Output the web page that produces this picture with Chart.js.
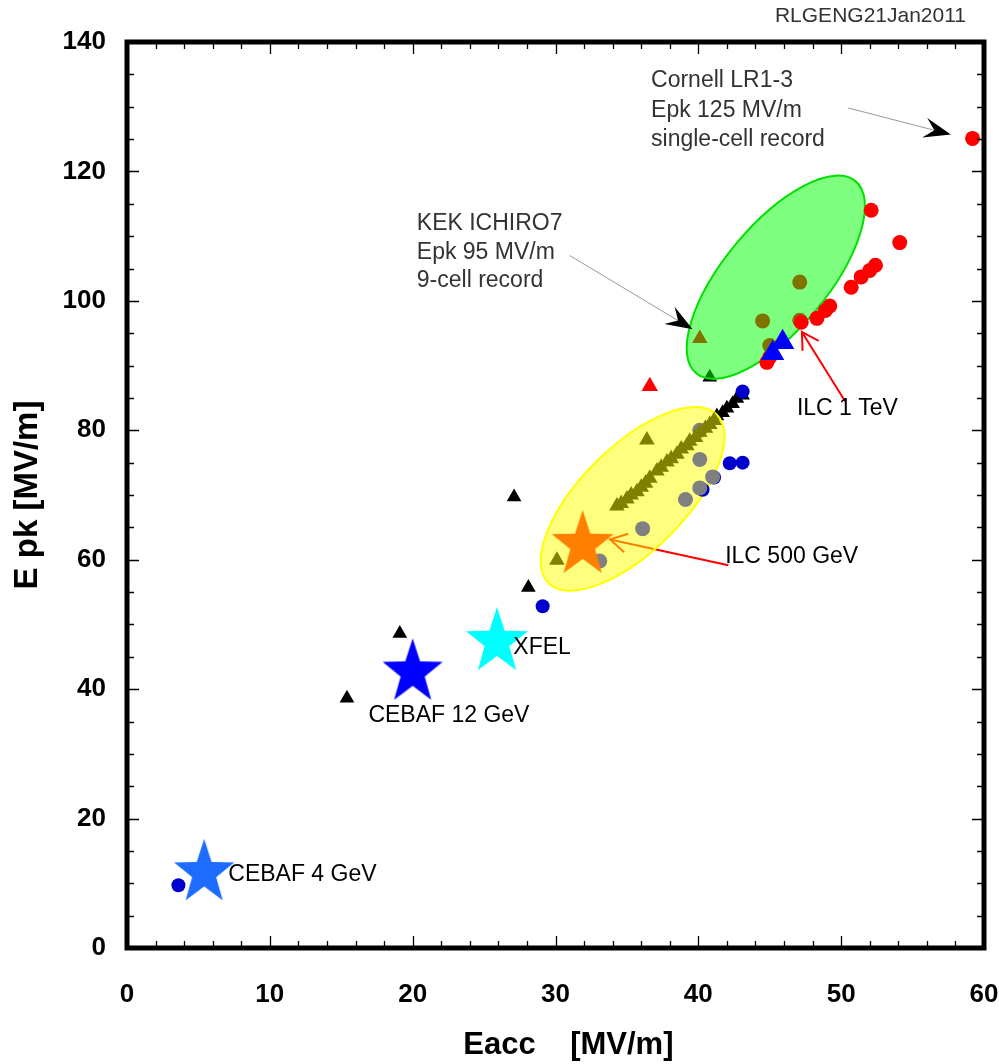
<!DOCTYPE html>
<html><head><meta charset="utf-8">
<script src="https://cdn.jsdelivr.net/npm/chart.js@4.4.1/dist/chart.umd.min.js"></script>
<style>html,body{margin:0;padding:0;background:#fff;}#wrap{width:999px;height:1064px;}</style>
</head><body><div id="wrap"><canvas id="c" width="999" height="1064"></canvas></div>
<script>
// ---------------- data ----------------
const xTickValues = [0, 10, 20, 30, 40, 50, 60];
const yTickValues = [0, 20, 40, 60, 80, 100, 120, 140];

const starNames = ['CEBAF 4 GeV', 'CEBAF 12 GeV', 'XFEL', 'ILC 500 GeV'];
const starEacc = [5.4, 20.0, 25.9, 31.9];
const starEpk = [11.6, 42.6, 47.3, 62.3];

const blueTriEacc = [45.9, 45.2];
const blueTriEpk = [93.6, 91.9];

const redTriEacc = [36.6];
const redTriEpk = [86.8];

const redCircEacc = [59.2, 52.1, 54.1, 52.4, 52.0, 51.4, 50.7, 49.2, 48.9, 48.3, 47.2, 44.8, 45.0];
const redCircEpk = [125.1, 114.0, 109.0, 105.5, 104.7, 103.7, 102.1, 99.2, 98.5, 97.3, 96.7, 90.5, 91.3];

const kekEacc = [47.1, 44.5, 47.1, 45.0];
const kekEpk = [102.9, 96.9, 97.0, 93.1];
const kekTriEacc = [40.1];
const kekTriEpk = [94.2];

const oliveTriEacc = [36.4, 30.1, 34.3, 34.6, 35.0, 35.3, 35.7, 36.0, 36.3, 36.6, 37.1, 37.4, 37.8, 38.1, 38.5, 38.8, 39.2, 39.4, 39.8, 40.1, 40.5, 40.8, 41.1];
const oliveTriEpk = [78.5, 59.9, 68.3, 68.7, 69.4, 70.0, 70.5, 71.2, 71.8, 72.6, 73.7, 74.3, 75.1, 75.6, 76.3, 77.1, 77.6, 78.3, 78.9, 79.7, 80.3, 80.9, 81.5];

const grayCircEacc = [33.1, 36.1, 39.1, 40.1, 41.0, 40.1, 40.1];
const grayCircEpk = [59.8, 64.8, 69.3, 71.1, 72.8, 75.5, 80.0];

const blueCircEacc = [3.6, 29.1, 43.1, 43.1, 42.2, 41.1, 40.3];
const blueCircEpk = [9.7, 52.8, 86.0, 75.0, 74.9, 72.7, 70.8];

const blackTriEacc = [15.4, 19.1, 27.1, 28.1, 40.8, 41.3, 41.7, 42.0, 42.4, 42.7, 43.1];
const blackTriEpk = [38.6, 48.6, 69.7, 55.7, 88.2, 82.2, 82.7, 83.4, 84.1, 84.9, 85.4];

// ---------------- annotations (data coordinates) ----------------
const ellipses = [
  {from: [29.5, 56.4], to: [41.3, 82.4], minor: 52, fill: 'rgba(255,255,0,0.5)', stroke: '#ffff00'},
  {from: [39.85, 88.8], to: [51.0, 118.5], minor: 52, fill: 'rgba(0,255,0,0.5)', stroke: '#00e000'}
];
const arrowsUnder = [
  {from: [42.1, 59.15], to: [33.82, 63.12], color: '#ff0000', width: 2, head: 'open'}
];
const arrowsTop = [
  {from: [50.3, 84.4], to: [47.25, 95.2], color: '#ff0000', width: 2, head: 'open'},
  {from: [50.5, 129.8], to: [57.68, 125.7], color: '#999999', width: 1, head: 'filled'},
  {from: [31.0, 107.0], to: [39.6, 95.6], color: '#999999', width: 1, head: 'filled'}
];
const noteBlocks = [
  {at: [36.69, 133.98], lines: ['Cornell LR1-3', 'Epk 125 MV/m', 'single-cell record'], color: '#333333', spacing: 29.5},
  {at: [20.29, 111.9], lines: ['KEK ICHIRO7', 'Epk 95 MV/m', '9-cell record'], color: '#333333', spacing: 28.5},
  {at: [46.9, 83.4], lines: ['ILC 1 TeV'], color: '#000000', spacing: 28},
  {at: [41.88, 60.43], lines: [starNames[3]], color: '#000000', spacing: 28},
  {at: [27.05, 46.38], lines: [starNames[2]], color: '#000000', spacing: 28},
  {at: [16.9, 35.83], lines: [starNames[1]], color: '#000000', spacing: 28},
  {at: [7.09, 11.32], lines: [starNames[0]], color: '#000000', spacing: 28}
];

// ---------------- helpers ----------------
const FONT = '"Liberation Sans", Arial, Helvetica, sans-serif';
function pts(xs, ys) { return xs.map((x, i) => ({x: x, y: ys[i]})); }
function makeStar(color, R) {
  const c = document.createElement('canvas');
  const s = Math.ceil(2 * R + 4);
  c.width = s; c.height = s;
  const g = c.getContext('2d');
  g.translate(s / 2, s / 2);
  g.scale(0.93, 1);
  g.beginPath();
  for (let i = 0; i < 10; i++) {
    const r = i % 2 === 0 ? R : R * 0.4;
    const a = -Math.PI / 2 + i * Math.PI / 5;
    g.lineTo(r * Math.cos(a), r * Math.sin(a));
  }
  g.closePath();
  g.fillStyle = color;
  g.fill();
  return c;
}
const starImgs = [makeStar('#1e6cff', 34), makeStar('#0000ff', 34), makeStar('#00ffff', 35), makeStar('#ff8000', 35)];

function ds(label, xs, ys, style, radius, color) {
  return {label: label, data: pts(xs, ys), pointStyle: style, pointRadius: radius,
    pointBackgroundColor: color, pointBorderColor: color, pointBorderWidth: 0, showLine: false};
}
const datasets = [
  {label: 'stars', data: pts(starEacc, starEpk), pointStyle: starImgs, pointRadius: 30, showLine: false},
  ds('blueTri', blueTriEacc, blueTriEpk, 'triangle', 13.5, '#0000ff'),
  ds('redTri', redTriEacc, redTriEpk, 'triangle', 9.5, '#ff0000'),
  ds('redCirc', redCircEacc, redCircEpk, 'circle', 7.5, '#ff0000'),
  ds('kekCirc', kekEacc, kekEpk, 'circle', 7.5, '#7f7400'),
  ds('kekTri', kekTriEacc, kekTriEpk, 'triangle', 9, '#7f7400'),
  ds('oliveTri', oliveTriEacc, oliveTriEpk, 'triangle', 9, '#808000'),
  ds('grayCirc', grayCircEacc, grayCircEpk, 'circle', 7.5, '#808080'),
  ds('blueCirc', blueCircEacc, blueCircEpk, 'circle', 7, '#0000cc'),
  ds('blackTri', blackTriEacc, blackTriEpk, 'triangle', 8.5, '#000000')
];
const BLACK_INDEX = datasets.length - 1;

function drawArrow(ctx, chart, a) {
  const xs = chart.scales.x, ys = chart.scales.y;
  const x0 = xs.getPixelForValue(a.from[0]), y0 = ys.getPixelForValue(a.from[1]);
  const x1 = xs.getPixelForValue(a.to[0]), y1 = ys.getPixelForValue(a.to[1]);
  const ang = Math.atan2(y1 - y0, x1 - x0);
  ctx.save();
  ctx.strokeStyle = a.color; ctx.lineWidth = a.width;
  ctx.beginPath(); ctx.moveTo(x0, y0);
  if (a.head === 'filled') ctx.lineTo(x1 - 14 * Math.cos(ang), y1 - 14 * Math.sin(ang));
  else ctx.lineTo(x1, y1);
  ctx.stroke();
  ctx.translate(x1, y1); ctx.rotate(ang);
  if (a.head === 'open') {
    ctx.beginPath();
    ctx.moveTo(-19 * Math.cos(0.52), -19 * Math.sin(0.52)); ctx.lineTo(0, 0);
    ctx.lineTo(-19 * Math.cos(0.52), 19 * Math.sin(0.52));
    ctx.stroke();
  } else {
    ctx.fillStyle = '#000';
    ctx.beginPath();
    ctx.moveTo(0, 0); ctx.lineTo(-27, -10); ctx.lineTo(-17, 0); ctx.lineTo(-27, 10);
    ctx.closePath(); ctx.fill();
  }
  ctx.restore();
}

const overlay = {
  id: 'overlay',
  afterDatasetDraw(chart, args) {
    if (args.index !== BLACK_INDEX) return;
    const ctx = chart.ctx, xs = chart.scales.x, ys = chart.scales.y;
    arrowsUnder.forEach(a => drawArrow(ctx, chart, a));
    ellipses.forEach(e => {
      const x0 = xs.getPixelForValue(e.from[0]), y0 = ys.getPixelForValue(e.from[1]);
      const x1 = xs.getPixelForValue(e.to[0]), y1 = ys.getPixelForValue(e.to[1]);
      const cx = (x0 + x1) / 2, cy = (y0 + y1) / 2;
      const a = Math.hypot(x1 - x0, y1 - y0) / 2;
      const rot = Math.atan2(y1 - y0, x1 - x0);
      ctx.save();
      ctx.beginPath();
      ctx.ellipse(cx, cy, a, e.minor, rot, 0, Math.PI * 2);
      ctx.fillStyle = e.fill; ctx.fill();
      ctx.strokeStyle = e.stroke; ctx.lineWidth = 2; ctx.stroke();
      ctx.restore();
    });
  },
  afterDatasetsDraw(chart) {
    const ctx = chart.ctx, xs = chart.scales.x, ys = chart.scales.y, ca = chart.chartArea;
    arrowsTop.forEach(a => drawArrow(ctx, chart, a));
    // notes
    ctx.save();
    ctx.font = '23px ' + FONT;
    ctx.textAlign = 'left'; ctx.textBaseline = 'middle';
    noteBlocks.forEach(n => {
      const x = xs.getPixelForValue(n.at[0]), y = ys.getPixelForValue(n.at[1]);
      ctx.fillStyle = n.color;
      n.lines.forEach((t, i) => ctx.fillText(t, x, y + i * n.spacing));
    });
    ctx.restore();
    // inward tick marks on all four sides
    ctx.save();
    ctx.strokeStyle = '#000'; ctx.lineWidth = 1.3;
    ctx.beginPath();
    for (let v = 2; v < 60; v += 2) {
      const x = Math.round(xs.getPixelForValue(v)) + 0.5;
      const len = (v % 10 === 0) ? 12 : 7;
      ctx.moveTo(x, ca.bottom); ctx.lineTo(x, ca.bottom - len);
      ctx.moveTo(x, ca.top); ctx.lineTo(x, ca.top + len);
    }
    for (let v = 5; v < 140; v += 5) {
      const y = Math.round(ys.getPixelForValue(v)) + 0.5;
      const len = (v % 20 === 0) ? 12 : 7;
      ctx.moveTo(ca.left, y); ctx.lineTo(ca.left + len, y);
      ctx.moveTo(ca.right, y); ctx.lineTo(ca.right - len, y);
    }
    ctx.stroke();
    // frame
    ctx.lineWidth = 5;
    ctx.strokeRect(ca.left, ca.top, ca.right - ca.left, ca.bottom - ca.top);
    ctx.restore();
    // stamp
    ctx.save();
    ctx.font = '21px ' + FONT;
    ctx.fillStyle = '#333';
    ctx.textAlign = 'right'; ctx.textBaseline = 'middle';
    ctx.fillText('RLGENG21Jan2011', 966, 16);
    ctx.restore();
  }
};

new Chart(document.getElementById('c'), {
  type: 'scatter',
  data: {datasets: datasets},
  options: {
    responsive: false, animation: false, devicePixelRatio: 1,
    layout: {autoPadding: false, padding: {top: 42, right: 15, bottom: 0, left: 0}},
    plugins: {legend: {display: false}, tooltip: {enabled: false}},
    scales: {
      x: {
        type: 'linear', min: 0, max: 60, position: 'bottom',
        afterFit: s => { s.height = 116; s.paddingRight = 0; s.paddingLeft = 0; },
        afterBuildTicks: s => { s.ticks = xTickValues.map(v => ({value: v})); },
        grid: {display: false, drawTicks: false}, border: {display: false},
        ticks: {padding: 0, color: '#000', maxRotation: 0, autoSkip: false,
          font: {family: FONT, size: 26, weight: 'bold', lineHeight: '94px'}},
        title: {display: true, text: '   Eacc    [MV/m]', color: '#000', padding: {top: 0, bottom: 0},
          font: {family: FONT, size: 31, weight: 'bold'}}
      },
      y: {
        type: 'linear', min: 0, max: 140, position: 'left',
        afterFit: s => { s.width = 127; },
        afterBuildTicks: s => { s.ticks = yTickValues.map(v => ({value: v})); },
        grid: {display: false, drawTicks: true, tickLength: 19}, border: {display: false},
        ticks: {padding: 2, color: '#000', autoSkip: false,
          font: {family: FONT, size: 26, weight: 'bold'}},
        title: {display: true, text: 'E pk [MV/m]', color: '#000', padding: {top: 8, bottom: 0},
          font: {family: FONT, size: 33, weight: 'bold'}}
      }
    }
  },
  plugins: [overlay]
});
</script></body></html>
